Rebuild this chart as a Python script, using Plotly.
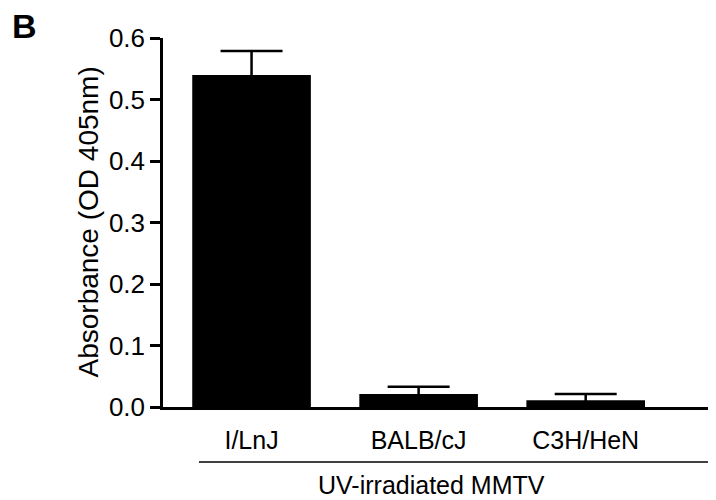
import plotly.graph_objects as go

categories = ["I/LnJ", "BALB/cJ", "C3H/HeN"]
means = [0.54, 0.021, 0.011]
errors = [0.039, 0.012, 0.010]
y_ticks = [0.0, 0.1, 0.2, 0.3, 0.4, 0.5, 0.6]
y_tick_text = ["0.0", "0.1", "0.2", "0.3", "0.4", "0.5", "0.6"]
group_label = "UV-irradiated MMTV"
y_title = "Absorbance (OD 405nm)"
panel_label = "B"

FONT = "Liberation Sans, Arial, sans-serif"

fig = go.Figure()
fig.add_trace(go.Bar(
    x=categories, y=means, width=0.71,
    marker=dict(color="black", line=dict(width=0)),
    error_y=dict(type="data", symmetric=True, array=errors,
                 color="black", thickness=2.5, width=31),
))

fig.update_layout(
    width=708, height=492,
    margin=dict(l=155, r=0, t=30, b=93),
    plot_bgcolor="white", paper_bgcolor="white",
    showlegend=False,
    font=dict(family=FONT, color="black", size=25),
    xaxis=dict(range=[-0.53, 2.78], showline=True, linecolor="black",
               linewidth=2.5, ticks="", showgrid=False, zeroline=False,
               tickfont=dict(size=25, family=FONT, color="black"),
               ticklabelstandoff=9),
    yaxis=dict(range=[0, 0.6], showline=True, linecolor="black",
               linewidth=2.5, ticks="outside", ticklen=10, tickwidth=2.5,
               tickcolor="black", tickvals=y_ticks, ticktext=y_tick_text,
               showgrid=False, zeroline=False,
               tickfont=dict(size=26, family=FONT, color="black")),
)

fig.add_annotation(text=y_title, xref="paper", yref="paper",
                   x=-0.1356, y=0.5, textangle=-90, showarrow=False,
                   xanchor="center", yanchor="middle",
                   font=dict(size=28, family=FONT, color="black"))
fig.add_shape(type="line", xref="paper", yref="paper",
              x0=0.065, x1=1.0, y0=-0.149, y1=-0.149,
              line=dict(color="black", width=1.5))
fig.add_annotation(text=group_label, xref="paper", yref="paper",
                   x=0.486, y=-0.211, showarrow=False, yanchor="middle",
                   font=dict(size=25, family=FONT, color="black"))
fig.add_annotation(text="<b>" + panel_label + "</b>", xref="paper", yref="paper",
                   x=-0.25, y=1.0325, xanchor="center", yanchor="middle",
                   showarrow=False,
                   font=dict(size=34, family=FONT, color="black"))

fig.write_html("out.html")
